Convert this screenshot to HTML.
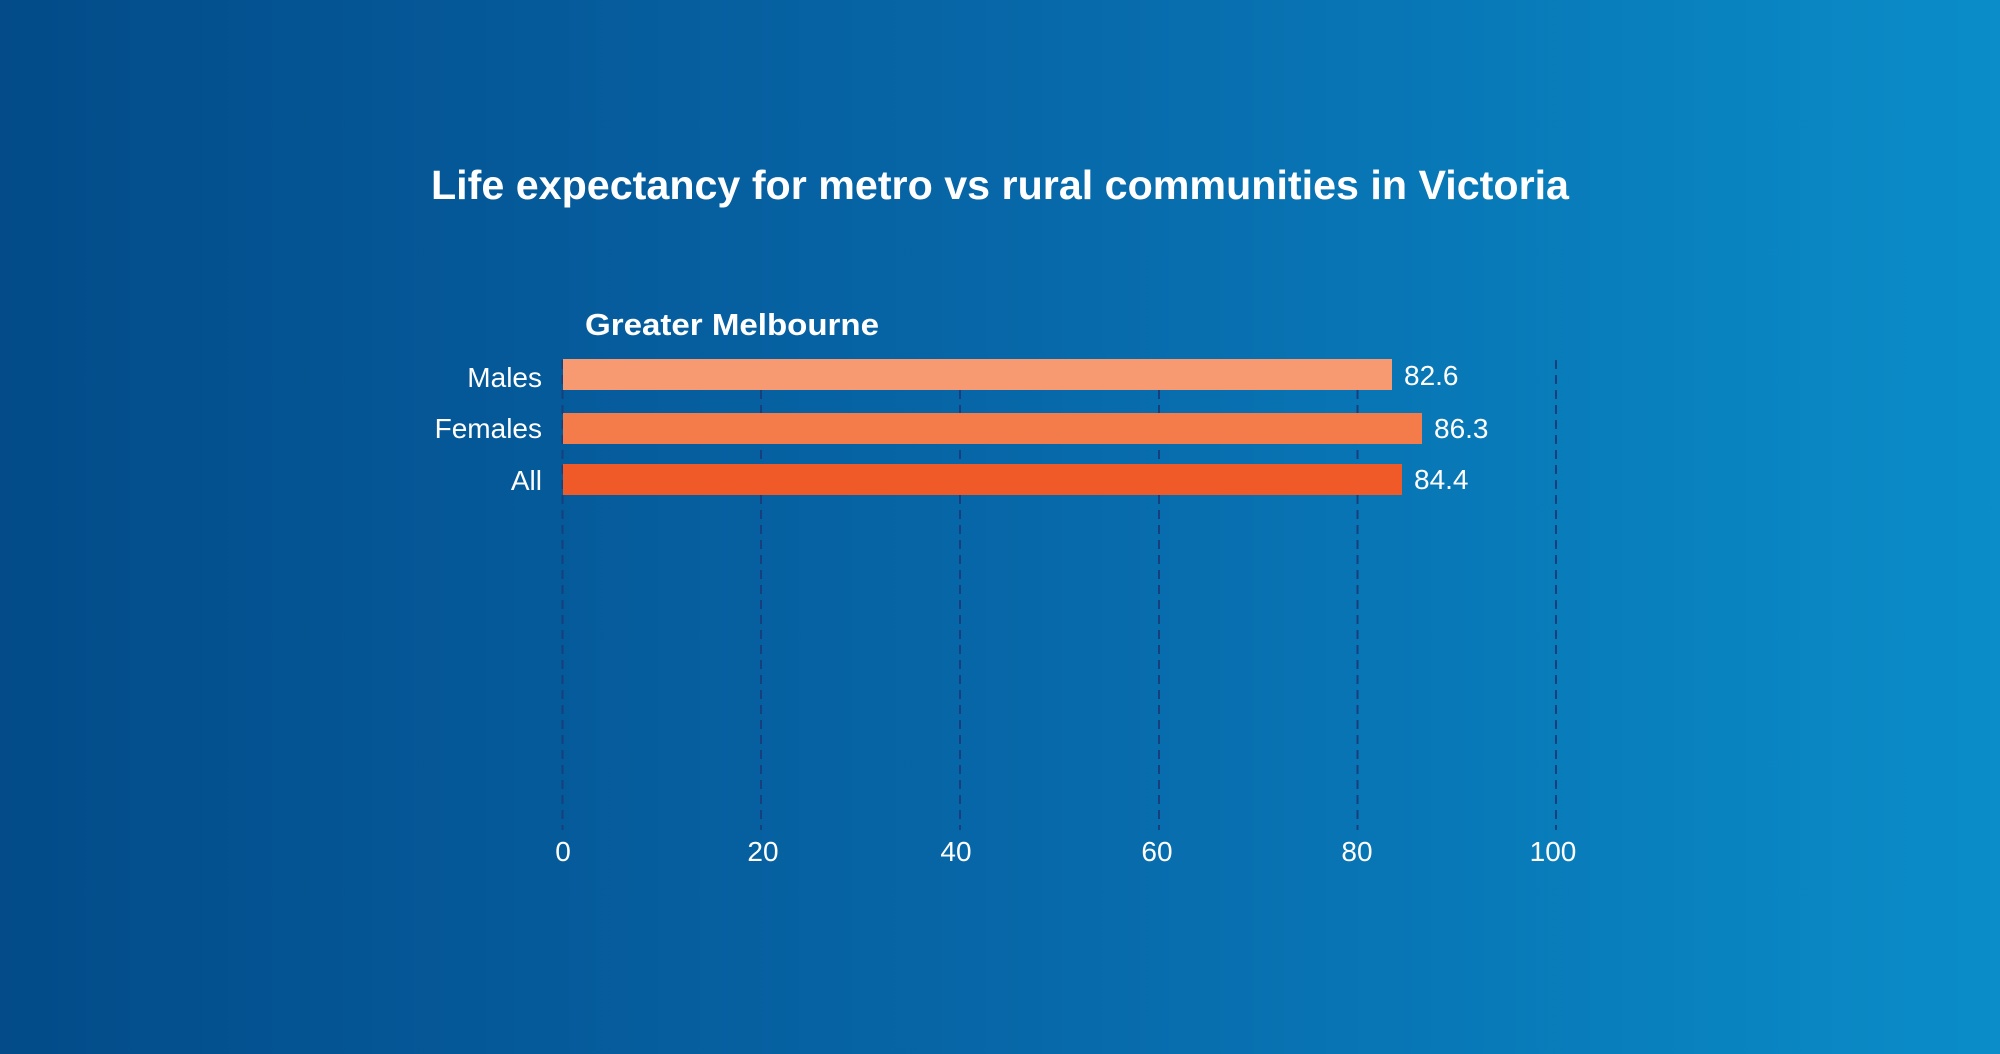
<!DOCTYPE html>
<html><head><meta charset="utf-8"><style>
html,body{margin:0;padding:0;}
body{width:2000px;height:1054px;overflow:hidden;background:linear-gradient(90deg,#034b89 0%,#0767a8 50%,#0a8dc9 100%);}
svg{display:block}
text{font-family:"Liberation Sans",sans-serif;fill:#fff;}
</style></head><body>
<svg width="2000" height="1054" viewBox="0 0 2000 1054">
<text x="1000" y="199" text-anchor="middle" font-size="41" font-weight="bold" textLength="1138" lengthAdjust="spacingAndGlyphs">Life expectancy for metro vs rural communities in Victoria</text>
<text x="585" y="335" font-size="31" font-weight="bold" textLength="294" lengthAdjust="spacingAndGlyphs">Greater Melbourne</text>
<g stroke="#173f7e" stroke-width="2" stroke-dasharray="9,6">
<line x1="562.5" y1="360" x2="562.5" y2="830"/>
<line x1="761" y1="360" x2="761" y2="830"/>
<line x1="960" y1="360" x2="960" y2="830"/>
<line x1="1159" y1="360" x2="1159" y2="830"/>
<line x1="1357.5" y1="360" x2="1357.5" y2="830"/>
<line x1="1556" y1="360" x2="1556" y2="830"/>
</g>
<rect x="563" y="359" width="829" height="31" fill="#f79a71"/>
<rect x="563" y="413" width="859" height="31" fill="#f47c4a"/>
<rect x="563" y="464" width="839" height="31" fill="#f05a28"/>
<g font-size="28">
<text x="1404" y="385">82.6</text>
<text x="1434" y="438">86.3</text>
<text x="1414" y="489">84.4</text>
<text x="542" y="387" text-anchor="end">Males</text>
<text x="542" y="438" text-anchor="end">Females</text>
<text x="542" y="490" text-anchor="end">All</text>
<g text-anchor="middle">
<text x="563" y="861">0</text>
<text x="763" y="861">20</text>
<text x="956" y="861">40</text>
<text x="1157" y="861">60</text>
<text x="1357" y="861">80</text>
<text x="1553" y="861">100</text>
</g>
</g>
</svg>
</body></html>
